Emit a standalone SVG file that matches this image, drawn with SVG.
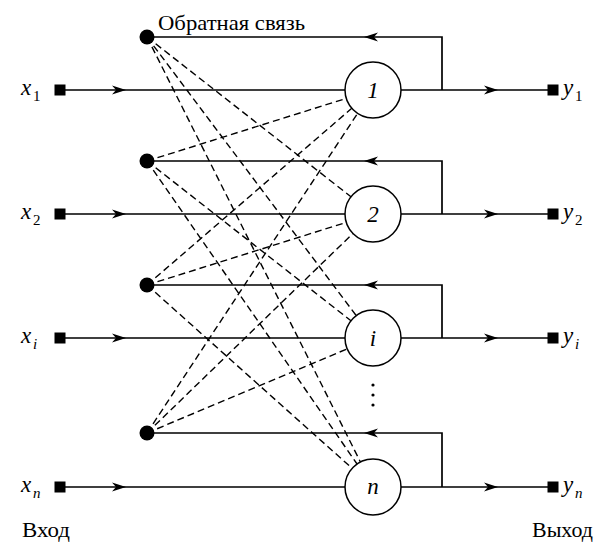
<svg xmlns="http://www.w3.org/2000/svg" xmlns:xlink="http://www.w3.org/1999/xlink" width="606" height="559" viewBox="0 0 606 559">
<style>
.ln{fill:none;stroke:#000;stroke-width:1.7}
.ds{fill:none;stroke:#000;stroke-width:1.4;stroke-dasharray:7,4}
.nd{fill:#fff;stroke:#000;stroke-width:1.5}
text{font-family:'Liberation Serif','DejaVu Serif',serif;fill:#000}
.it{font-style:italic}
</style>
<defs>
<path id="ar" d="M0,0 L-14,-4.5 L-10,0 L-14,4.5 Z" fill="#000"/>
<rect id="sq" x="-5.5" y="-5.5" width="11" height="11" fill="#000"/>
</defs>
<rect width="606" height="559" fill="#fff"/>
<g id="connectors">
<path class="ln" d="M65,90 H345 M401,90 H548 M442,90 V37 H147"/>
<path class="ln" d="M65,214 H345 M401,214 H548 M442,214 V161 H147"/>
<path class="ln" d="M65,338 H345 M401,338 H548 M442,338 V285 H147"/>
<path class="ln" d="M65,487 H345 M401,487 H548 M442,487 V433 H147"/>
<use xlink:href="#ar" transform="translate(126,90)"/>
<use xlink:href="#ar" transform="translate(126,214)"/>
<use xlink:href="#ar" transform="translate(126,338)"/>
<use xlink:href="#ar" transform="translate(126,487)"/>
<use xlink:href="#ar" transform="translate(498,90)"/>
<use xlink:href="#ar" transform="translate(498,214)"/>
<use xlink:href="#ar" transform="translate(498,338)"/>
<use xlink:href="#ar" transform="translate(498,487)"/>
<use xlink:href="#ar" transform="translate(364,37) rotate(180)"/>
<use xlink:href="#ar" transform="translate(364,161) rotate(180)"/>
<use xlink:href="#ar" transform="translate(364,285) rotate(180)"/>
<use xlink:href="#ar" transform="translate(364,433) rotate(180)"/>
<path class="ds" d="M147,37 L350.96,196.74 M147,37 L356.19,315.61 M147,37 L360.43,461.98"/>
<path class="ds" d="M147,161 L346.29,98.39 M147,161 L350.96,320.74 M147,161 L357.05,463.99"/>
<path class="ds" d="M147,285 L351.8,108.29 M147,285 L346.29,222.39 M147,285 L352.12,468.34"/>
<path class="ds" d="M147,433 L357.59,113.38 M147,433 L352.89,233.49 M147,433 L347.19,348.85"/>
</g>
<g id="fb1"><circle cx="147" cy="37" r="7.5"/></g>
<g id="fb2"><circle cx="147" cy="161" r="7.5"/></g>
<g id="fb3"><circle cx="147" cy="285" r="7.5"/></g>
<g id="fb4"><circle cx="147" cy="433" r="7.5"/></g>
<g id="in1"><use xlink:href="#sq" x="60" y="90"/><text class="it" x="21" y="95" font-size="23">x</text><text x="33" y="101" font-size="15">1</text></g>
<g id="in2"><use xlink:href="#sq" x="60" y="214"/><text class="it" x="21" y="219" font-size="23">x</text><text x="33" y="225" font-size="15">2</text></g>
<g id="ini"><use xlink:href="#sq" x="60" y="338"/><text class="it" x="21" y="343" font-size="23">x</text><text class="it" x="33" y="349" font-size="15">i</text></g>
<g id="inn"><use xlink:href="#sq" x="60" y="487"/><text class="it" x="21" y="492" font-size="23">x</text><text class="it" x="33" y="498" font-size="15">n</text></g>
<g id="n1"><circle class="nd" cx="373" cy="90" r="28"/><text class="it" x="373" y="98" font-size="23" text-anchor="middle">1</text></g>
<g id="n2"><circle class="nd" cx="373" cy="214" r="28"/><text class="it" x="373" y="222" font-size="23" text-anchor="middle">2</text></g>
<g id="ni"><circle class="nd" cx="373" cy="338" r="28"/><text class="it" x="373" y="346" font-size="23" text-anchor="middle">i</text></g>
<g id="nn"><circle class="nd" cx="373" cy="487" r="28"/><text class="it" x="373" y="494" font-size="23" text-anchor="middle">n</text></g>
<g id="dots"><circle cx="373" cy="385" r="1.6"/><circle cx="373" cy="395" r="1.6"/><circle cx="373" cy="405" r="1.6"/></g>
<g id="out1"><use xlink:href="#sq" x="553" y="90"/><text class="it" x="563" y="95" font-size="23">y</text><text x="575" y="101" font-size="15">1</text></g>
<g id="out2"><use xlink:href="#sq" x="553" y="214"/><text class="it" x="563" y="219" font-size="23">y</text><text x="575" y="225" font-size="15">2</text></g>
<g id="outi"><use xlink:href="#sq" x="553" y="338"/><text class="it" x="563" y="343" font-size="23">y</text><text class="it" x="575" y="349" font-size="15">i</text></g>
<g id="outn"><use xlink:href="#sq" x="553" y="487"/><text class="it" x="563" y="492" font-size="23">y</text><text class="it" x="575" y="498" font-size="15">n</text></g>
<g id="labels">
<text x="158" y="30" font-size="21" textLength="147" lengthAdjust="spacingAndGlyphs">Обратная связь</text>
<text x="22" y="537" font-size="22" textLength="48" lengthAdjust="spacingAndGlyphs">Вход</text>
<text x="532" y="537" font-size="22" textLength="61" lengthAdjust="spacingAndGlyphs">Выход</text>
</g>
</svg>
